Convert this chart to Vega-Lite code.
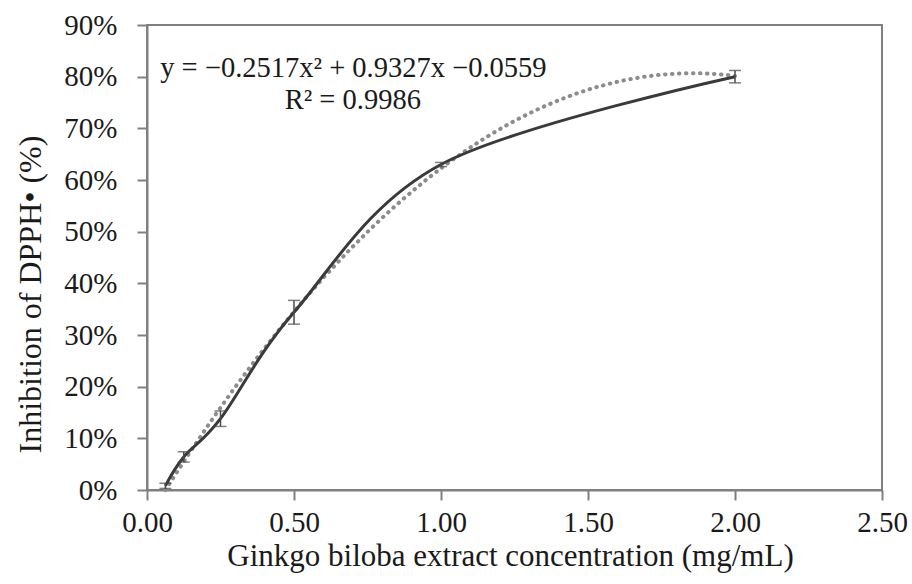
{
  "$schema": "https://vega.github.io/schema/vega-lite/v6.json",
  "autosize": {"type": "none"},
  "width": 735,
  "height": 465,
  "padding": {"left": 147, "top": 25, "right": 30, "bottom": 94},
  "background": "white",
  "config": {
    "font": "Liberation Serif",
    "view": {"stroke": "#808080", "strokeWidth": 2},
    "axis": {
      "grid": false,
      "domainColor": "#808080",
      "domainWidth": 2,
      "tickColor": "#808080",
      "tickWidth": 2,
      "tickSize": 10,
      "labelFlush": false,
      "labelFont": "Liberation Serif",
      "labelFontSize": 29,
      "labelColor": "#1a1a1a",
      "titleFont": "Liberation Serif",
      "titleFontWeight": "normal",
      "titleColor": "#1a1a1a"
    }
  },
  "datasets": {
    "pts": [
      {"conc": 0.0625, "inh": 0.008, "err": 0.005},
      {"conc": 0.125, "inh": 0.064, "err": 0.010},
      {"conc": 0.25, "inh": 0.138, "err": 0.015},
      {"conc": 0.5, "inh": 0.344, "err": 0.023},
      {"conc": 1.0, "inh": 0.630, "err": 0.004},
      {"conc": 2.0, "inh": 0.800, "err": 0.012}
    ]
  },
  "layer": [
    {
      "data": {"name": "pts"},
      "transform": [{"regression": "inh", "on": "conc", "method": "poly", "order": 2}],
      "mark": {"type": "line", "stroke": "#8c8c8c", "strokeWidth": 4, "strokeDash": [0.5, 6.5], "strokeCap": "round"},
      "encoding": {
        "x": {"field": "conc", "type": "quantitative", "title": "Ginkgo biloba extract concentration (mg/mL)"},
        "y": {"field": "inh", "type": "quantitative", "title": "Inhibition of  DPPH• (%)"}
      }
    },
    {
      "data": {"name": "pts"},
      "mark": {"type": "line", "interpolate": "cardinal", "stroke": "#3a3a3a", "strokeWidth": 3},
      "encoding": {
        "x": {
          "field": "conc", "type": "quantitative",
          "scale": {"domain": [0, 2.5], "nice": false},
          "title": "Ginkgo biloba extract concentration (mg/mL)",
          "axis": {"values": [0, 0.5, 1, 1.5, 2, 2.5], "format": ".2f", "labelPadding": 8, "titleFontSize": 31, "titlePadding": 4, "titleX": 363}
        },
        "y": {
          "field": "inh", "type": "quantitative",
          "scale": {"domain": [0, 0.9], "nice": false},
          "title": "Inhibition of  DPPH• (%)",
          "axis": {"values": [0, 0.1, 0.2, 0.3, 0.4, 0.5, 0.6, 0.7, 0.8, 0.9], "format": ".0%", "labelPadding": 20, "titleFontSize": 32, "titleX": -117, "titleY": 269, "titleBaseline": "middle", "titleAngle": -90}
        }
      }
    },
    {
      "data": {"name": "pts"},
      "mark": {"type": "errorbar", "ticks": true, "size": 12, "thickness": 1.5, "color": "#4a4a4a"},
      "encoding": {
        "x": {"field": "conc", "type": "quantitative", "title": "Ginkgo biloba extract concentration (mg/mL)"},
        "y": {"field": "inh", "type": "quantitative", "title": "Inhibition of  DPPH• (%)"},
        "yError": {"field": "err"}
      }
    },
    {
      "data": {"values": [{"tx": 0.045, "ty": 0.817, "label": "y = −0.2517x² + 0.9327x −0.0559"}]},
      "mark": {"type": "text", "align": "left", "baseline": "middle", "fontSize": 28.5, "color": "#1a1a1a", "font": "Liberation Serif"},
      "encoding": {
        "x": {"field": "tx", "type": "quantitative"},
        "y": {"field": "ty", "type": "quantitative"},
        "text": {"field": "label"}
      }
    },
    {
      "data": {"values": [{"tx": 0.70, "ty": 0.755, "label": "R² = 0.9986"}]},
      "mark": {"type": "text", "align": "center", "baseline": "middle", "fontSize": 28.5, "color": "#1a1a1a", "font": "Liberation Serif"},
      "encoding": {
        "x": {"field": "tx", "type": "quantitative"},
        "y": {"field": "ty", "type": "quantitative"},
        "text": {"field": "label"}
      }
    }
  ]
}
